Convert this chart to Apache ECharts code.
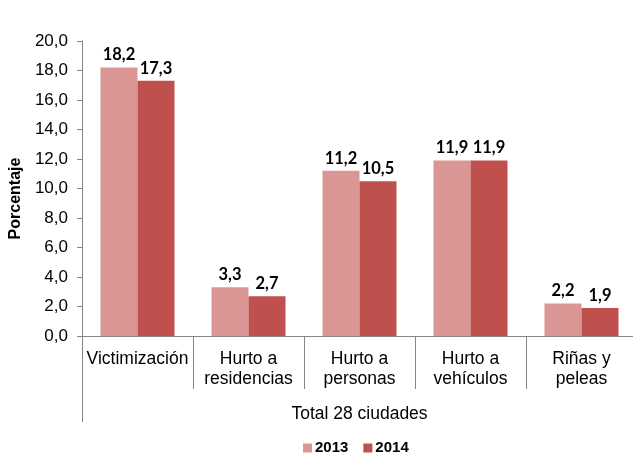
<!DOCTYPE html>
<html>
<head>
<meta charset="utf-8">
<script src="https://cdn.jsdelivr.net/npm/echarts@6/dist/echarts.min.js"></script>
<style>html,body{margin:0;padding:0;background:#fff}#c{width:633px;height:453px}</style>
</head>
<body>
<div id="c"></div>
<script>
const categories = ["Victimización", "Hurto a\nresidencias", "Hurto a\npersonas", "Hurto a\nvehículos", "Riñas y\npeleas"];
const groupLabel = ["Total 28 ciudades"];
const seriesNames = ["2013", "2014"];
const values2013 = [18.2, 3.3, 11.2, 11.9, 2.2];
const values2014 = [17.3, 2.7, 10.5, 11.9, 1.9];
const yTicks = { min: 0, max: 20, interval: 2 };
const yName = "Porcentaje";

const fmt = v => Number(v).toFixed(1).replace('.', ',');
const chart = echarts.init(document.getElementById('c'));
const labelStyle = {
  show: true, position: 'top', distance: 4,
  fontFamily: 'Lato', fontWeight: 'bold', fontSize: 16.5, color: '#000',
  formatter: p => fmt(p.value)
};
chart.setOption({
  animation: false,
  textStyle: { fontFamily: 'Liberation Sans' },
  grid: { left: 82, right: -4, top: 41, bottom: 117, containLabel: false, outerBoundsMode: 'none' },
  legend: {
    left: 298, top: 435, itemWidth: 9, itemHeight: 9, itemGap: 15,
    icon: 'rect',
    textStyle: { fontFamily: 'Liberation Sans', fontWeight: 'bold', fontSize: 15, lineHeight: 16, color: '#000', padding: [0, 0, 0, -2] },
    data: seriesNames
  },
  xAxis: [{
    type: 'category', data: categories, position: 'bottom',
    axisLine: { lineStyle: { color: '#868686', width: 1 } },
    axisTick: { show: true, interval: 0, length: 53, lineStyle: { color: '#868686' } },
    axisLabel: { interval: 0, fontSize: 17.5, lineHeight: 20, color: '#000', margin: 13, fontFamily: 'Liberation Sans' }
  }, {
    type: 'category', data: groupLabel, position: 'bottom',
    axisLine: { show: false },
    axisTick: { show: true, length: 86, lineStyle: { color: '#868686' } },
    axisLabel: { fontSize: 17.5, lineHeight: 20, color: '#000', margin: 68, fontFamily: 'Liberation Sans' }
  }],
  yAxis: {
    type: 'value', min: yTicks.min, max: yTicks.max, interval: yTicks.interval,
    name: yName, nameLocation: 'middle', nameGap: 56, nameRotate: 90,
    nameTextStyle: { fontFamily: 'Liberation Sans', fontWeight: 'bold', fontSize: 16, color: '#000', padding: [0, 20, 0, 0] },
    axisLine: { show: true, lineStyle: { color: '#868686' } },
    axisTick: { show: true, length: 5, lineStyle: { color: '#868686' } },
    splitLine: { show: false },
    axisLabel: { fontSize: 17, color: '#000', margin: 14, formatter: v => fmt(v) }
  },
  series: [{
    name: seriesNames[0], type: 'bar', data: values2013, barWidth: 37, barGap: '0%',
    itemStyle: { color: '#D99694' }, label: labelStyle
  }, {
    name: seriesNames[1], type: 'bar', data: values2014, barWidth: 37, barGap: '0%',
    itemStyle: { color: '#C0504D' }, label: labelStyle
  }]
});
</script>
</body>
</html>
